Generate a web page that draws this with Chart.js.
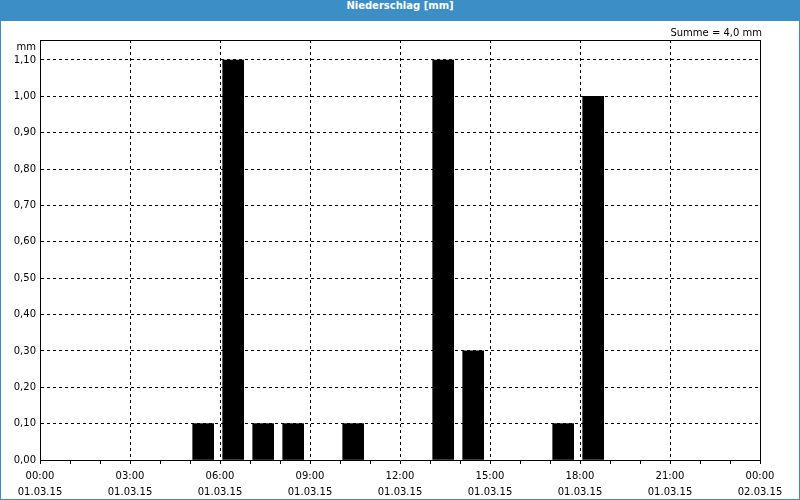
<!DOCTYPE html>
<html><head><meta charset="utf-8">
<script src="https://cdn.jsdelivr.net/npm/chart.js@4.4.1/dist/chart.umd.min.js"></script>
<style>
html,body{margin:0;padding:0;background:#fff;}
#win{position:absolute;left:0;top:0;width:800px;height:500px;background:#3c8fc6;}
#title{position:absolute;left:0;top:0;width:800px;height:21px;line-height:21px;text-align:center;color:#fff;font:bold 10px "DejaVu Sans";}
#box{position:absolute;left:1px;top:21px;width:798px;height:478px;background:#fff;}
canvas{display:block;}
</style></head><body>
<div id="win"><div id="title">Niederschlag [mm]</div><div id="box"><canvas id="c" width="798" height="478"></canvas></div></div>
<script>
const hours = [5, 6, 7, 8, 10, 13, 14, 17, 18];
const values = [0.1, 1.1, 0.1, 0.1, 0.1, 1.1, 0.3, 0.1, 1.0];
const tickHours = [0, 3, 6, 9, 12, 15, 18, 21, 24];
const timeLabels = ['00:00','03:00','06:00','09:00','12:00','15:00','18:00','21:00','00:00'];
const dateLabels = ['01.03.15','01.03.15','01.03.15','01.03.15','01.03.15','01.03.15','01.03.15','01.03.15','02.03.15'];
const yMax = 1.155;
const unitLabel = 'mm';
const sum = values.reduce((a, b) => a + b, 0);
const sumLabel = 'Summe = ' + sum.toFixed(1).replace('.', ',') + ' mm';

const FONT = '"DejaVu Sans"';
const barOffset = 0.44; // bar centre within each hour

const extras = {
  id: 'extras',
  afterDraw(chart) {
    const ctx = chart.ctx, a = chart.chartArea;
    ctx.save();
    ctx.strokeStyle = '#000';
    ctx.lineWidth = 1;
    ctx.setLineDash([]);
    ctx.beginPath();
    ctx.moveTo(Math.floor(a.left) + 0.5, Math.floor(a.top) + 0.5);
    ctx.lineTo(Math.floor(a.right) + 0.5, Math.floor(a.top) + 0.5);
    ctx.lineTo(Math.floor(a.right) + 0.5, Math.floor(a.bottom) + 0.5);
    ctx.stroke();
    ctx.fillStyle = '#000';
    ctx.font = '10px ' + FONT;
    ctx.textAlign = 'right';
    ctx.textBaseline = 'middle';
    ctx.fillText(sumLabel, 761, 12);
    ctx.fillText(unitLabel, a.left - 4, 26);
    ctx.restore();
  }
};

new Chart(document.getElementById('c'), {
  type: 'bar',
  data: {
    datasets: [{
      data: hours.map((h, i) => ({ x: h + barOffset, y: values[i] })),
      backgroundColor: '#000',
      borderWidth: 0,
      barThickness: 21
    }]
  },
  options: {
    responsive: false,
    animation: false,
    devicePixelRatio: 1,
    layout: { padding: { left: 0, top: 19, right: 39, bottom: 0 } },
    plugins: { legend: { display: false }, tooltip: { enabled: false }, title: { display: false } },
    scales: {
      x: {
        type: 'linear',
        min: 0, max: 24,
        offset: false,
        bounds: 'data',
        afterFit(s) { s.height = 39; },
        ticks: {
          stepSize: 1,
          autoSkip: false,
          maxRotation: 0, minRotation: 0,
          padding: 5,
          color: '#000',
          font: { family: FONT, size: 10, lineHeight: 1.55 },
          callback(v) {
            const i = tickHours.indexOf(v);
            return i < 0 ? '' : [timeLabels[i], dateLabels[i]];
          }
        },
        grid: {
          offset: false,
          color: (c) => (c.tick && c.tick.value % 3 === 0) ? '#000' : 'rgba(0,0,0,0)',
          lineWidth: 1,
          tickColor: '#000',
          tickLength: 4,
          drawTicks: true
        },
        border: { display: true, color: '#000', width: 1, dash: [3, 3] }
      },
      y: {
        min: 0, max: yMax,
        bounds: 'data',
        afterFit(s) { s.width = 39; },
        ticks: {
          stepSize: 0.1,
          includeBounds: false,
          padding: 4,
          color: '#000',
          font: { family: FONT, size: 10 },
          callback(v) { return v.toFixed(2).replace('.', ','); }
        },
        grid: { color: '#000', lineWidth: 1, drawTicks: false },
        border: { display: true, color: '#000', width: 1, dash: [3, 3] }
      }
    }
  },
  plugins: [extras]
});
</script>
</body></html>
